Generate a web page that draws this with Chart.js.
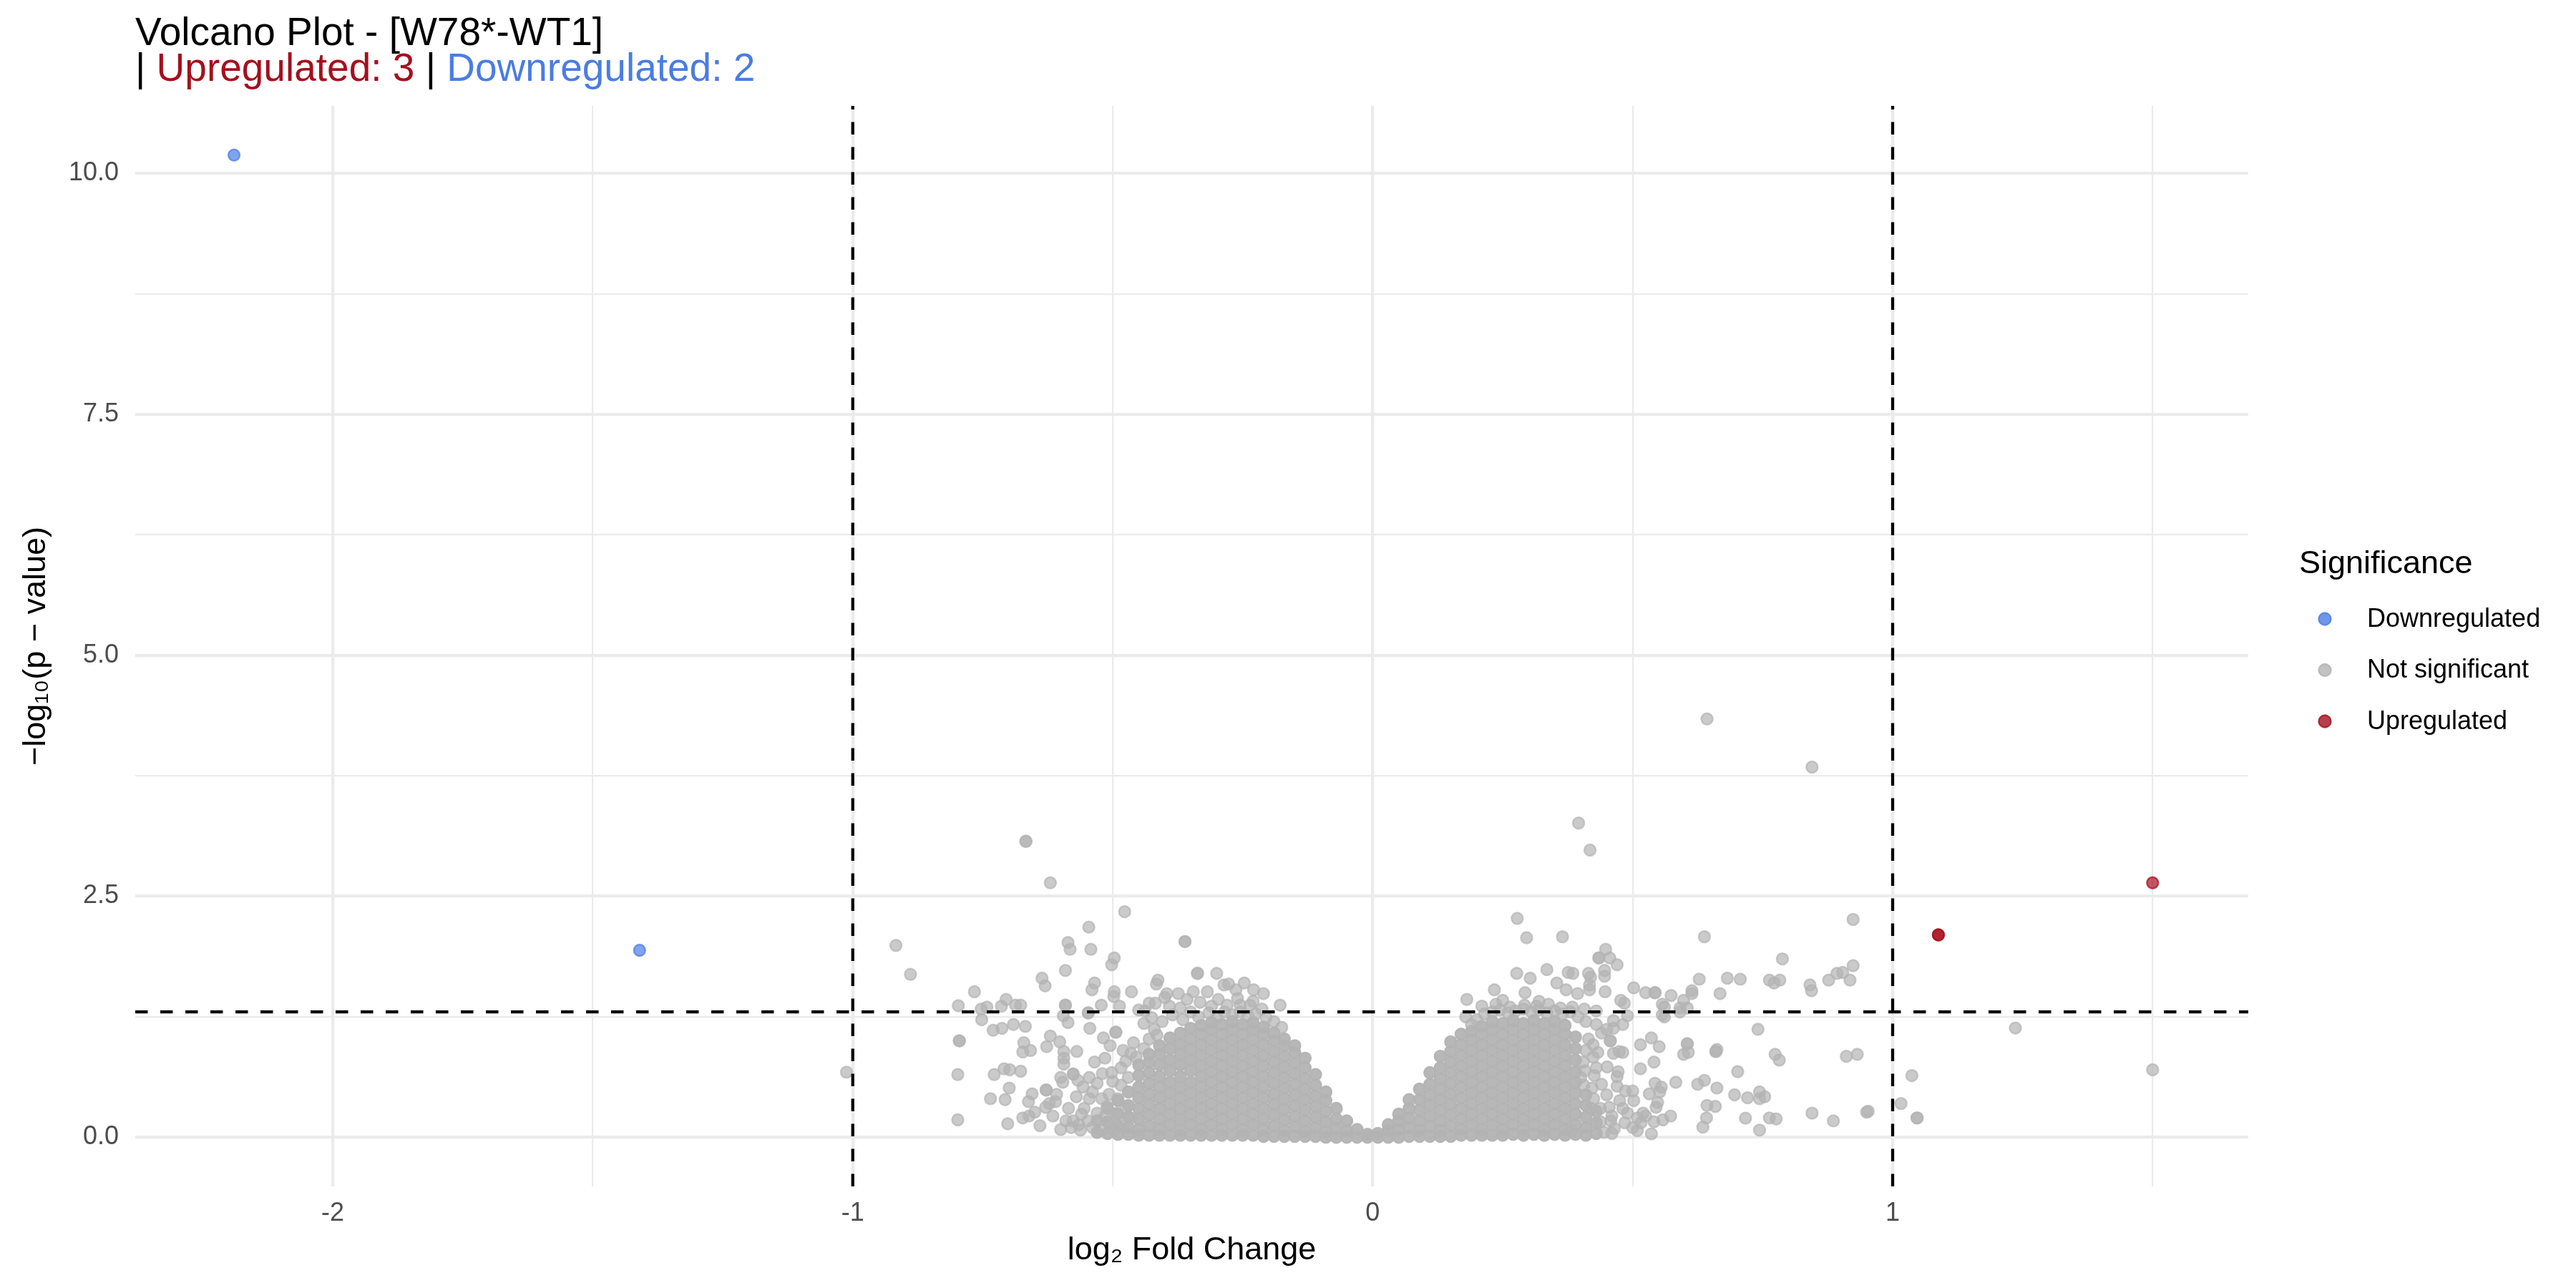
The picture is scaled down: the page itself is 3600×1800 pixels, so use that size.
<!DOCTYPE html>
<html>
<head>
<meta charset="utf-8">
<title>Volcano Plot</title>
<script src="https://cdn.jsdelivr.net/npm/chart.js@4.4.1/dist/chart.umd.min.js"></script>
<style>
  html, body { margin: 0; padding: 0; background: #fff; }
  #wrap { width: 3600px; height: 1800px; }
</style>
</head>
<body>
<div id="wrap"><canvas id="volcano" width="3600" height="1800"></canvas></div>
<script>
// significant genes
const DOWN_X = [-2.19, -1.41];
const DOWN_Y = [10.19, 1.94];
const UP_X = [1.088, 1.088, 1.50];
const UP_Y = [2.10, 2.10, 2.64];

// not significant: scattered genes, [log2FC, -log10 p]
const NS_SPARSE = [
  [-1.012, 0.675], [-0.917, 1.99], [-0.889, 1.69],
  [-0.797, 1.365], [-0.766, 1.51], [-0.752, 1.22], [-0.742, 1.35], [-0.753, 1.33],
  [-0.714, 1.36], [-0.705, 1.43], [-0.73, 1.11], [-0.713, 1.13], [-0.795, 1.0], [-0.795, 1.0],
  [-0.798, 0.65], [-0.798, 0.18], [-0.735, 0.40], [-0.707, 0.39], [-0.702, 0.14],
  [-0.728, 0.65], [-0.709, 0.71], [-0.698, 0.70], [-0.699, 0.51], [-0.691, 1.17], [-0.687, 1.37],
  [-0.667, 3.07], [-0.667, 3.07], [-0.62, 2.64], [-0.477, 2.34], [-0.546, 2.18],
  [-0.586, 2.02], [-0.582, 1.95], [-0.542, 1.95], [-0.361, 2.03], [-0.361, 2.03],
  [-0.497, 1.86], [-0.502, 1.79], [-0.591, 1.73], [-0.636, 1.65], [-0.630, 1.57],
  [-0.535, 1.60], [-0.540, 1.53], [-0.337, 1.70], [-0.337, 1.70], [-0.30, 1.70],
  [-0.413, 1.63], [-0.416, 1.59], [-0.497, 1.51], [-0.498, 1.46], [-0.464, 1.51],
  [-0.396, 1.49], [-0.374, 1.49], [-0.345, 1.51], [-0.318, 1.51], [-0.286, 1.58], [-0.277, 1.59],
  [-0.247, 1.60], [-0.229, 1.53], [-0.210, 1.49], [-0.263, 1.53], [-0.357, 1.43], [-0.297, 1.43],
  [-0.178, 1.37], [-0.677, 1.37], [-0.591, 1.37], [-0.591, 1.37], [-0.522, 1.37], [-0.487, 1.36],
  [-0.418, 1.39], [-0.391, 1.36], [-0.45, 1.32], [-0.438, 1.31], [-0.332, 1.40], [-0.280, 1.37],
  [-0.255, 1.37], [-0.236, 1.37], [-0.213, 1.33],
  [-0.547, 1.29], [-0.547, 1.29], [-0.595, 1.26], [-0.586, 1.19],
  [-0.668, 1.15], [-0.544, 1.13], [-0.518, 1.03], [-0.494, 1.09], [-0.494, 1.09],
  [-0.62, 1.05], [-0.602, 0.99], [-0.671, 0.98], [-0.673, 0.885], [-0.658, 0.90], [-0.627, 0.94],
  [-0.594, 0.89], [-0.594, 0.82], [-0.594, 0.76], [-0.569, 0.89], [-0.677, 0.685],
  [-0.662, 0.37], [-0.629, 0.31], [-0.673, 0.20], [-0.661, 0.22], [-0.650, 0.26],
  [-0.628, 0.49], [-0.628, 0.49], [-0.576, 0.655], [-0.576, 0.655], [-0.596, 0.57], [-0.567, 0.59],
  [-0.557, 0.52], [-0.539, 0.47], [-0.521, 0.40], [-0.511, 0.32], [-0.530, 0.25], [-0.548, 0.17],
  [-0.576, 0.17], [-0.58, 0.10], [-0.562, 0.074], [-0.539, 0.10], [-0.521, 0.074], [-0.498, 0.074],
  [-0.507, 0.445], [-0.502, 0.67], [-0.484, 0.72], [-0.475, 0.79], [-0.465, 0.87], [-0.484, 0.54],
  [-0.493, 0.25], [-0.465, 0.20], [-0.608, 0.445], [-0.61, 0.37], [-0.59, 0.17], [-0.622, 0.35],
  [-0.585, 0.3], [-0.57, 0.42], [-0.555, 0.3], [-0.545, 0.4], [-0.53, 0.56], [-0.52, 0.66],
  [-0.515, 0.22], [-0.505, 0.14], [-0.5, 0.58], [-0.49, 0.4], [-0.48, 0.12], [-0.475, 0.3],
  [-0.47, 0.62], [-0.56, 0.24], [-0.545, 0.62], [-0.535, 0.78], [-0.515, 0.82], [-0.505, 0.95],
  [-0.48, 0.9], [-0.565, 0.13], [-0.6, 0.08], [-0.615, 0.22], [-0.64, 0.12], [-0.655, 0.45],
  [-0.6, 0.62], [-0.46, 0.98], [-0.455, 0.83], [-0.44, 0.92], [-0.43, 1.02], [-0.415, 1.06],
  [-0.44, 1.18], [-0.425, 1.24], [-0.405, 1.2], [-0.385, 1.27], [-0.365, 1.22], [-0.35, 1.3],
  [-0.335, 1.25], [-0.315, 1.29], [-0.3, 1.24], [-0.285, 1.3], [-0.27, 1.27], [-0.255, 1.3],
  [-0.24, 1.26], [-0.225, 1.28], [-0.205, 1.24], [-0.19, 1.2], [-0.175, 1.14], [-0.42, 1.12],
  [-0.37, 1.34], [-0.31, 1.36], [-0.26, 1.44], [-0.23, 1.41], [-0.4, 1.45], [-0.43, 1.39],
  [0.396, 3.26], [0.418, 2.98], [0.278, 2.27], [0.296, 2.07], [0.365, 2.08], [0.448, 1.95],
  [0.435, 1.86], [0.435, 1.86], [0.456, 1.86], [0.470, 1.79], [0.335, 1.74], [0.277, 1.70],
  [0.303, 1.65], [0.376, 1.71], [0.385, 1.70], [0.415, 1.70], [0.419, 1.66], [0.446, 1.67],
  [0.446, 1.73], [0.354, 1.60], [0.372, 1.53], [0.394, 1.49], [0.417, 1.58], [0.417, 1.53],
  [0.447, 1.51], [0.293, 1.50], [0.234, 1.53], [0.181, 1.43], [0.179, 1.25], [0.502, 1.55],
  [0.477, 1.42], [0.484, 1.39], [0.49, 1.26], [0.463, 1.21], [0.463, 1.13], [0.481, 1.17],
  [0.457, 1.0], [0.457, 1.0], [0.515, 0.96], [0.474, 0.89], [0.481, 0.88], [0.463, 0.87],
  [0.424, 0.96], [0.433, 0.88], [0.424, 0.83], [0.408, 0.69], [0.426, 0.64], [0.451, 0.73],
  [0.472, 0.68], [0.470, 0.63], [0.515, 0.71], [0.406, 0.54], [0.422, 0.51], [0.486, 0.48],
  [0.50, 0.48], [0.502, 0.38], [0.438, 0.30], [0.438, 0.16], [0.458, 0.17], [0.481, 0.30],
  [0.49, 0.25], [0.509, 0.2], [0.516, 0.15], [0.52, 0.25], [0.50, 0.1], [0.509, 0.07], [0.383, 0.07],
  [0.21, 1.36], [0.237, 1.38], [0.264, 1.35], [0.292, 1.37], [0.315, 1.36], [0.338, 1.38],
  [0.361, 1.34], [0.384, 1.35], [0.407, 1.33], [0.43, 1.31],
  [0.2, 1.22], [0.215, 1.28], [0.23, 1.3], [0.245, 1.32], [0.26, 1.29], [0.275, 1.31],
  [0.29, 1.33], [0.305, 1.3], [0.32, 1.32], [0.335, 1.29], [0.35, 1.31], [0.365, 1.28],
  [0.38, 1.3], [0.395, 1.25], [0.41, 1.2], [0.25, 1.42], [0.32, 1.41], [0.19, 1.17],
  [0.4, 0.62], [0.405, 0.78], [0.41, 0.9], [0.415, 1.02], [0.42, 0.3], [0.425, 0.4],
  [0.43, 0.72], [0.44, 0.55], [0.445, 0.05], [0.45, 0.44], [0.455, 0.31], [0.46, 0.22],
  [0.47, 0.53], [0.465, 0.09], [0.475, 0.38], [0.44, 1.08], [0.45, 1.12], [0.43, 1.17],
  [0.46, 0.04], [0.485, 0.15],
  [0.643, 4.34], [0.845, 3.84], [0.924, 2.26], [0.638, 2.08], [0.788, 1.85], [0.628, 1.64],
  [0.682, 1.65], [0.707, 1.64], [0.763, 1.63], [0.772, 1.60], [0.783, 1.63], [0.841, 1.58],
  [0.844, 1.52], [0.877, 1.63], [0.893, 1.70], [0.904, 1.71], [0.924, 1.78], [0.918, 1.63],
  [0.668, 1.49], [0.614, 1.52], [0.614, 1.49], [0.574, 1.47], [0.543, 1.50], [0.543, 1.50],
  [0.525, 1.50], [0.557, 1.38], [0.561, 1.35], [0.557, 1.27], [0.561, 1.25], [0.591, 1.34],
  [0.598, 1.42], [0.605, 1.34], [0.591, 1.30], [0.741, 1.12], [0.536, 1.03], [0.551, 0.94],
  [0.605, 0.97], [0.605, 0.97], [0.598, 0.86], [0.607, 0.88], [0.66, 0.89], [0.66, 0.89],
  [0.662, 0.91], [0.541, 0.78], [0.774, 0.86], [0.782, 0.80], [0.911, 0.84], [0.932, 0.86],
  [0.702, 0.68], [1.037, 0.64], [1.016, 0.35], [1.047, 0.20], [1.047, 0.20], [0.95, 0.26],
  [0.953, 0.27], [0.886, 0.17], [0.845, 0.25], [0.776, 0.19], [0.763, 0.20], [0.744, 0.074],
  [0.717, 0.198], [0.696, 0.44], [0.721, 0.41], [0.744, 0.47], [0.744, 0.40], [0.754, 0.42],
  [0.662, 0.51], [0.625, 0.55], [0.638, 0.59], [0.643, 0.33], [0.659, 0.32], [0.642, 0.20],
  [0.635, 0.105], [0.583, 0.57], [0.543, 0.56], [0.555, 0.52], [0.552, 0.47], [0.532, 0.45],
  [0.548, 0.36], [0.545, 0.31], [0.573, 0.22], [0.558, 0.18], [0.541, 0.16], [0.536, 0.035],
  [0.525, 0.22], [1.236, 1.133], [1.5, 0.70]
];

// not significant: the two overplotted lobes, one column of genes per log2FC value
const NS_LEFT_CORE = [
  [-0.53, [0.05, 0.17]],
  [-0.51, [0.04, 0.16, 0.3]],
  [-0.49, [0.03, 0.12, 0.24, 0.38]],
  [-0.47, [0.03, 0.1, 0.21, 0.33, 0.47]],
  [-0.45, [0.02, 0.08, 0.19, 0.3, 0.41, 0.52, 0.64, 0.75]],
  [-0.43, [0.02, 0.12, 0.23, 0.34, 0.45, 0.56, 0.67, 0.78, 0.86]],
  [-0.41, [0.02, 0.08, 0.19, 0.3, 0.41, 0.52, 0.63, 0.75, 0.86, 0.95]],
  [-0.39, [0.02, 0.13, 0.24, 0.35, 0.46, 0.57, 0.69, 0.8, 0.92, 1.03]],
  [-0.37, [0.02, 0.08, 0.19, 0.3, 0.41, 0.52, 0.63, 0.75, 0.86, 0.97, 1.08]],
  [-0.35, [0.02, 0.13, 0.24, 0.35, 0.46, 0.57, 0.69, 0.8, 0.91, 1.02, 1.13]],
  [-0.33, [0.02, 0.08, 0.19, 0.3, 0.41, 0.52, 0.63, 0.74, 0.85, 0.96, 1.07, 1.16]],
  [-0.31, [0.02, 0.13, 0.24, 0.35, 0.46, 0.57, 0.68, 0.79, 0.9, 1.01, 1.12, 1.19]],
  [-0.29, [0.02, 0.08, 0.19, 0.3, 0.41, 0.52, 0.63, 0.74, 0.85, 0.96, 1.07, 1.17]],
  [-0.27, [0.02, 0.13, 0.24, 0.35, 0.46, 0.57, 0.68, 0.79, 0.9, 1.01, 1.12, 1.2]],
  [-0.25, [0.02, 0.08, 0.19, 0.3, 0.41, 0.52, 0.63, 0.74, 0.85, 0.96, 1.07, 1.17]],
  [-0.23, [0.02, 0.13, 0.24, 0.35, 0.46, 0.57, 0.68, 0.79, 0.9, 1.01, 1.12, 1.19]],
  [-0.21, [0.01, 0.08, 0.19, 0.3, 0.41, 0.52, 0.63, 0.74, 0.85, 0.96, 1.07, 1.14]],
  [-0.19, [0.01, 0.12, 0.23, 0.34, 0.45, 0.56, 0.67, 0.78, 0.89, 1.0, 1.08]],
  [-0.17, [0.01, 0.07, 0.18, 0.29, 0.4, 0.51, 0.62, 0.73, 0.84, 0.95, 1.02]],
  [-0.15, [0.01, 0.11, 0.22, 0.33, 0.44, 0.55, 0.66, 0.77, 0.88, 0.95]],
  [-0.13, [0.01, 0.06, 0.17, 0.28, 0.39, 0.5, 0.61, 0.72, 0.82]],
  [-0.11, [0.01, 0.1, 0.21, 0.32, 0.43, 0.54, 0.65]],
  [-0.09, [0.0, 0.06, 0.16, 0.27, 0.38, 0.47]],
  [-0.07, [0.0, 0.09, 0.19, 0.3]],
  [-0.05, [0.0, 0.07, 0.17]],
  [-0.03, [0.0, 0.08]],
  [-0.01, [0.0, 0.03]]
];
const NS_RIGHT_CORE = [
  [0.01, [0.0, 0.04]],
  [0.03, [0.0, 0.07, 0.13]],
  [0.05, [0.0, 0.08, 0.17, 0.24]],
  [0.07, [0.01, 0.1, 0.2, 0.3, 0.39]],
  [0.09, [0.01, 0.07, 0.17, 0.28, 0.39, 0.5]],
  [0.11, [0.01, 0.11, 0.22, 0.33, 0.44, 0.55, 0.67]],
  [0.13, [0.01, 0.07, 0.17, 0.28, 0.39, 0.5, 0.61, 0.72, 0.84]],
  [0.15, [0.01, 0.12, 0.23, 0.34, 0.45, 0.56, 0.67, 0.78, 0.89, 0.99]],
  [0.17, [0.02, 0.08, 0.19, 0.3, 0.41, 0.52, 0.63, 0.74, 0.85, 0.96, 1.07]],
  [0.19, [0.02, 0.13, 0.24, 0.35, 0.46, 0.57, 0.68, 0.79, 0.9, 1.01, 1.1]],
  [0.21, [0.02, 0.08, 0.19, 0.3, 0.41, 0.52, 0.63, 0.74, 0.85, 0.96, 1.07, 1.15]],
  [0.23, [0.02, 0.13, 0.24, 0.35, 0.46, 0.57, 0.68, 0.79, 0.9, 1.01, 1.12, 1.2]],
  [0.25, [0.02, 0.08, 0.19, 0.3, 0.41, 0.52, 0.63, 0.74, 0.85, 0.96, 1.07, 1.18]],
  [0.27, [0.03, 0.13, 0.24, 0.35, 0.46, 0.57, 0.68, 0.79, 0.9, 1.01, 1.12, 1.21]],
  [0.29, [0.02, 0.08, 0.19, 0.3, 0.41, 0.52, 0.63, 0.74, 0.85, 0.96, 1.07, 1.18]],
  [0.31, [0.03, 0.13, 0.24, 0.35, 0.46, 0.57, 0.68, 0.79, 0.9, 1.01, 1.12, 1.21]],
  [0.33, [0.02, 0.08, 0.19, 0.3, 0.41, 0.52, 0.63, 0.74, 0.85, 0.96, 1.07, 1.18]],
  [0.35, [0.03, 0.13, 0.24, 0.35, 0.46, 0.57, 0.68, 0.79, 0.9, 1.01, 1.12, 1.2]],
  [0.37, [0.02, 0.08, 0.19, 0.3, 0.41, 0.52, 0.63, 0.74, 0.85, 0.96, 1.07, 1.16]],
  [0.39, [0.03, 0.13, 0.24, 0.35, 0.46, 0.57, 0.68, 0.8, 0.92, 1.04]],
  [0.41, [0.02, 0.1, 0.21, 0.33, 0.44]],
  [0.43, [0.04, 0.15, 0.27]]
];

// thresholds: |log2FC| = 1 and p = 0.05
const FC_CUTOFFS = [-1, 1];
const P_CUTOFF = 1.301;

// axes
const X_RANGE = [-2.38, 1.684];
const Y_RANGE = [-0.51, 10.70];
const X_TICKS = [-2, -1.5, -1, -0.5, 0, 0.5, 1, 1.5];
const X_TICK_LABELS = ['-2', '', '-1', '', '0', '', '1', ''];
const Y_TICKS = [0, 1.25, 2.5, 3.75, 5, 6.25, 7.5, 8.75, 10];
const Y_TICK_LABELS = ['0.0', '', '2.5', '', '5.0', '', '7.5', '', '10.0'];

const LEGEND_LABELS = ['Downregulated', 'Not significant', 'Upregulated'];

const RED = '#A50F1E';
const BLUE = '#4A7DE2';
const GREY = '#B3B3B3';
const FONT = '"Liberation Sans", Arial, Helvetica, sans-serif';

function withAlpha(hex, a) {
  const n = parseInt(hex.slice(1), 16);
  return 'rgba(' + (n >> 16) + ',' + ((n >> 8) & 255) + ',' + (n & 255) + ',' + a + ')';
}

const pairsToPoints = arr => arr.map(([x, y]) => ({ x, y }));
const columnsToPoints = cols => cols.flatMap(([x, ys]) => ys.map(y => ({ x, y })));
const zipPoints = (xs, ys) => xs.map((x, i) => ({ x, y: ys[i] }));

const corePoints = columnsToPoints(NS_LEFT_CORE).concat(columnsToPoints(NS_RIGHT_CORE));
const sparsePoints = pairsToPoints(NS_SPARSE);

const pointStyle = (color, alpha) => ({
  backgroundColor: withAlpha(color, alpha),
  borderColor: withAlpha(color, alpha),
  borderWidth: 2.4,
  pointRadius: 8,
  pointHoverRadius: 8
});

const cutoffLine = data => ({
  type: 'line',
  data,
  showLine: true,
  borderColor: '#000',
  borderWidth: 4.3,
  borderDash: [17.5, 17.5],
  pointRadius: 0,
  fill: false,
  order: 0
});

// two-line title, second line coloured by group
const titlePlugin = {
  id: 'volcanoTitle',
  afterDraw(chart) {
    const ctx = chart.ctx;
    const left = chart.chartArea.left;
    ctx.save();
    ctx.textBaseline = 'alphabetic';
    ctx.textAlign = 'left';
    ctx.font = '55px ' + FONT;
    ctx.fillStyle = '#000';
    ctx.fillText('Volcano Plot - [W78*-WT1]', left, 63);
    const parts = [
      ['| ', '#000'],
      ['Upregulated: ' + UP_X.length, RED],
      [' | ', '#000'],
      ['Downregulated: ' + DOWN_X.length, BLUE]
    ];
    let x = left;
    parts.forEach(([text, color]) => {
      ctx.fillStyle = color;
      ctx.fillText(text, x, 113);
      x += ctx.measureText(text).width;
    });
    ctx.restore();
  }
};

// ggplot-style legend in the right margin
const legendPlugin = {
  id: 'sigLegend',
  afterDraw(chart) {
    const ctx = chart.ctx;
    const x0 = chart.chartArea.right + 71;
    const colors = [BLUE, GREY, RED];
    ctx.save();
    ctx.fillStyle = '#000';
    ctx.textAlign = 'left';
    ctx.textBaseline = 'alphabetic';
    ctx.font = '45px ' + FONT;
    ctx.fillText('Significance', x0, 801);
    ctx.font = '36px ' + FONT;
    ctx.textBaseline = 'middle';
    LEGEND_LABELS.forEach((label, i) => {
      const y = 865 + i * 71.5;
      ctx.beginPath();
      ctx.arc(x0 + 36, y, 8.5, 0, Math.PI * 2);
      ctx.fillStyle = withAlpha(colors[i], 0.8);
      ctx.fill();
      ctx.lineWidth = 2.4;
      ctx.strokeStyle = withAlpha(colors[i], 0.8);
      ctx.stroke();
      ctx.fillStyle = '#000';
      ctx.fillText(label, x0 + 95, y + 1);
    });
    ctx.restore();
  }
};

const ctx = document.getElementById('volcano').getContext('2d');

const volcanoChart = new Chart(ctx, {
  type: 'scatter',
  data: {
    datasets: [
      cutoffLine([{ x: FC_CUTOFFS[0], y: Y_RANGE[0] }, { x: FC_CUTOFFS[0], y: Y_RANGE[1] }]),
      cutoffLine([{ x: FC_CUTOFFS[1], y: Y_RANGE[0] }, { x: FC_CUTOFFS[1], y: Y_RANGE[1] }]),
      cutoffLine([{ x: X_RANGE[0], y: P_CUTOFF }, { x: X_RANGE[1], y: P_CUTOFF }]),
      Object.assign({ label: 'Downregulated', data: zipPoints(DOWN_X, DOWN_Y), order: 1 }, pointStyle(BLUE, 0.7)),
      Object.assign({ label: 'Upregulated', data: zipPoints(UP_X, UP_Y), order: 1 }, pointStyle(RED, 0.7)),
      Object.assign({ label: 'Not significant', data: sparsePoints, order: 2 }, pointStyle(GREY, 0.7)),
      // overplotted lobes: thousands of stacked 0.7-alpha points saturate to solid grey
      Object.assign({ label: 'Not significant (dense)', data: corePoints, order: 3 }, pointStyle(GREY, 0.95))
    ]
  },
  options: {
    responsive: false,
    devicePixelRatio: 1,
    animation: false,
    events: [],
    layout: { padding: { top: 148, right: 458, left: 0, bottom: 0 } },
    plugins: {
      legend: { display: false },
      tooltip: { enabled: false }
    },
    scales: {
      x: {
        type: 'linear',
        min: X_RANGE[0],
        max: X_RANGE[1],
        bounds: 'data',
        afterBuildTicks: axis => { axis.ticks = X_TICKS.map(v => ({ value: v })); },
        afterFit: axis => { axis.height = 142; },
        border: { display: false },
        grid: {
          color: '#EBEBEB',
          drawTicks: false,
          lineWidth: c => (Number.isInteger(c.tick.value) ? 4.3 : 2.2)
        },
        ticks: {
          autoSkip: false,
          maxRotation: 0,
          padding: 16,
          color: '#4D4D4D',
          font: { family: FONT, size: 36 },
          callback: v => X_TICK_LABELS[X_TICKS.indexOf(v)]
        },
        title: {
          display: true,
          text: 'log₂ Fold Change',
          color: '#000',
          font: { family: FONT, size: 45, lineHeight: 1.2 },
          padding: { top: 0, bottom: 25 }
        }
      },
      y: {
        type: 'linear',
        min: Y_RANGE[0],
        max: Y_RANGE[1],
        bounds: 'data',
        afterBuildTicks: axis => { axis.ticks = Y_TICKS.map(v => ({ value: v })); },
        afterFit: axis => { axis.width = 189; },
        border: { display: false },
        grid: {
          color: '#EBEBEB',
          drawTicks: false,
          lineWidth: c => (c.tick.value % 2.5 === 0 ? 4.3 : 2.2)
        },
        ticks: {
          autoSkip: false,
          padding: 23,
          color: '#4D4D4D',
          font: { family: FONT, size: 36 },
          callback: v => Y_TICK_LABELS[Y_TICKS.indexOf(v)]
        },
        title: {
          display: true,
          text: '−log₁₀(p − value)',
          color: '#000',
          font: { family: FONT, size: 45, lineHeight: 1.2 },
          padding: { top: 24, bottom: 0 }
        }
      }
    }
  },
  plugins: [titlePlugin, legendPlugin]
});
</script>
</body>
</html>
